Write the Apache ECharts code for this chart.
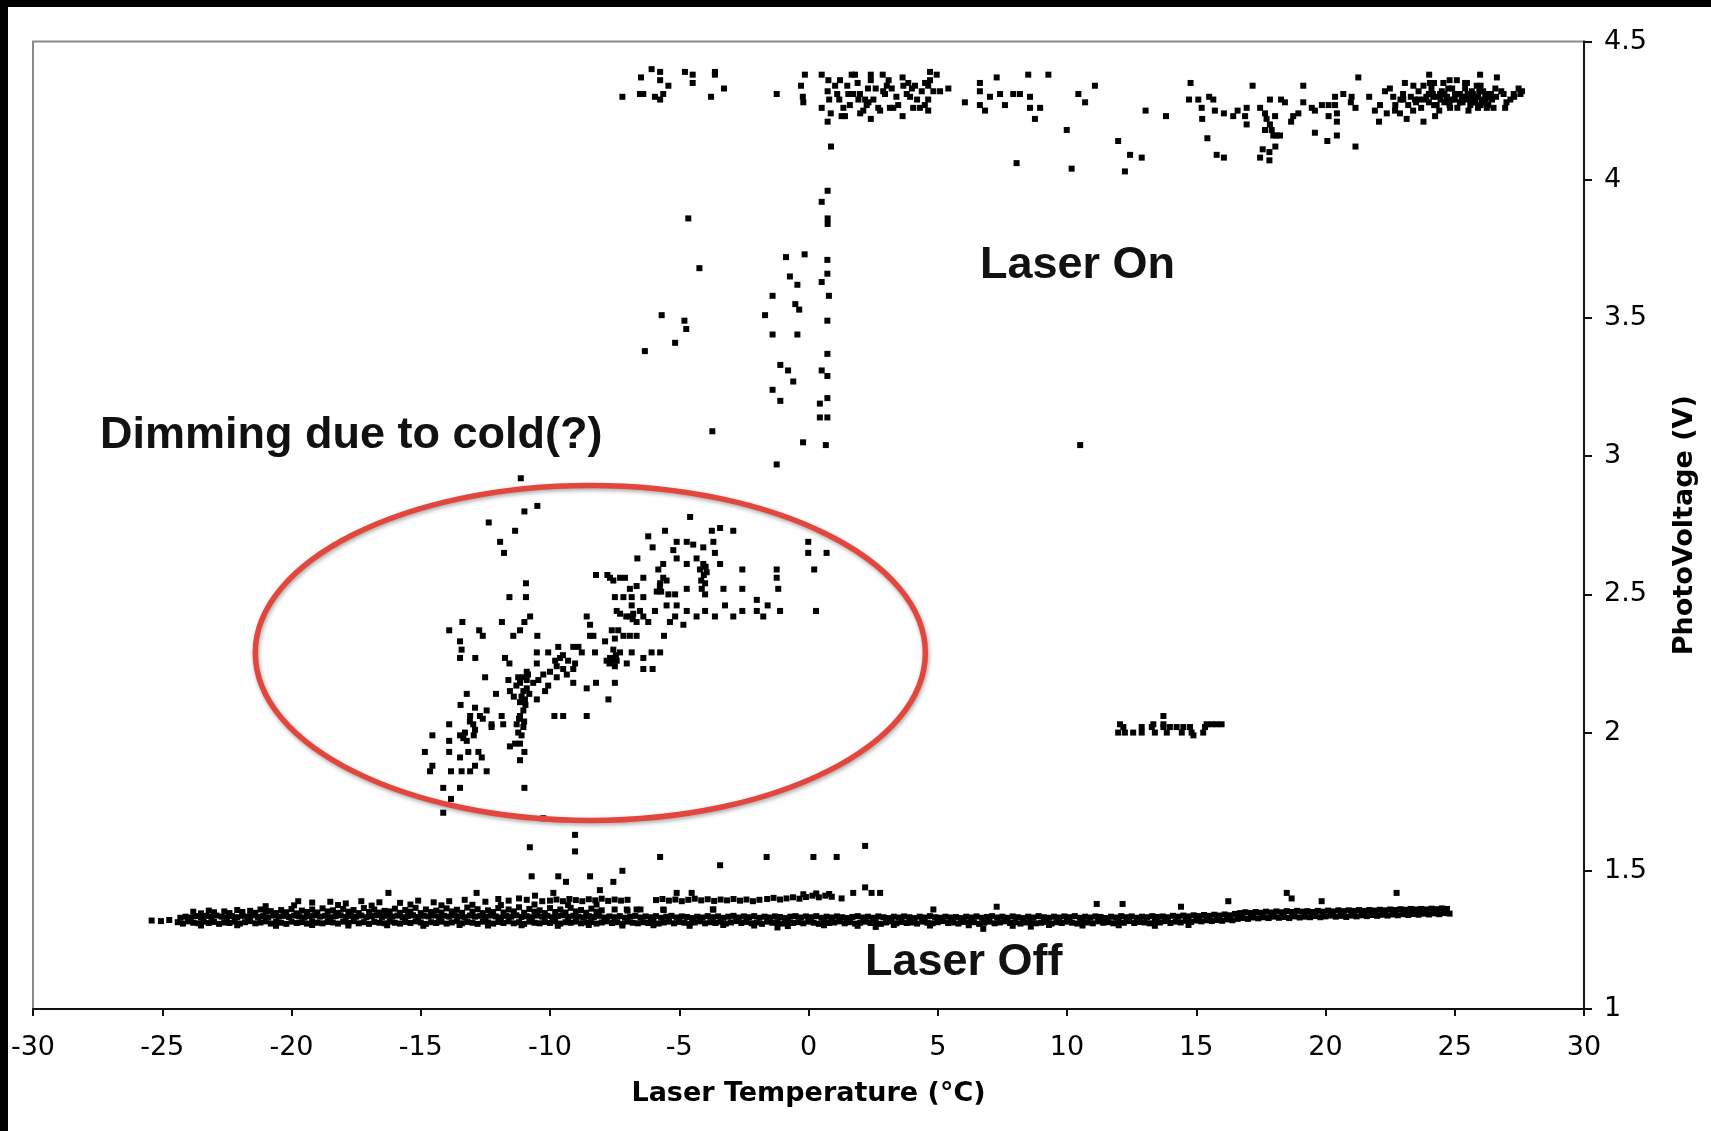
<!DOCTYPE html>
<html>
<head>
<meta charset="utf-8">
<script src="https://cdn.jsdelivr.net/npm/echarts@6/dist/echarts.min.js"></script>
<style>
  html, body { margin: 0; padding: 0; background: #000; width: 1711px; height: 1131px; overflow: hidden; }
  #chart { position: absolute; left: 8px; top: 7px; width: 1703px; height: 1124px; background: #fff; }
</style>
</head>
<body>
<div id="chart"></div>
<script>
// Axis ticks
const tempTicks = [-30, -25, -20, -15, -10, -5, 0, 5, 10, 15, 20, 25, 30];
const voltTicks = [1, 1.5, 2, 2.5, 3, 3.5, 4, 4.5];

// Laser on: plateau near 4.3 V
const onPlateau = [
  [-7.2,4.3],[-6.48,4.37],[-6.07,4.4],[-5.74,4.39],[-5.74,4.36],[-5.42,4.34],[-6.52,4.31],[-6.39,4.31],[-5.94,4.3],[-5.74,4.29],
  [-5.62,4.31],[-4.78,4.39],[-4.48,4.38],[-4.48,4.35],[-3.62,4.39],[-3.62,4.38],[-3.27,4.33],[-3.77,4.3],[-1.23,4.31],
  [-0.14,4.38],[-0.29,4.34],[-0.22,4.3],[-0.2,4.28],[0.51,4.38],[0.77,4.36],[0.74,4.32],[0.8,4.29],[0.51,4.26],[0.86,4.24],[0.74,4.21],[0.87,4.12],
  [1.03,4.34],[1.11,4.31],[1.19,4.29],[1.35,4.26],[1.41,4.23],[1.5,4.34],[1.67,4.38],[1.8,4.38],[1.73,4.31],[1.93,4.29],
  [2.12,4.25],[2.41,4.38],[2.41,4.36],[2.41,4.22],[2.51,4.29],[2.7,4.26],[2.87,4.38],[2.89,4.32],[3.03,4.34],[3.22,4.33],
  [3.28,4.26],[3.47,4.27],[3.64,4.37],[3.67,4.34],[3.64,4.23],[3.86,4.35],[3.93,4.3],[4.05,4.26],[4.31,4.26],[4.38,4.32],
  [4.7,4.39],[4.96,4.38],[4.63,4.34],[4.83,4.32],[5.09,4.32],[5.41,4.33],[4.63,4.29],[4.63,4.25],[2.25,4.27],[2.77,4.25],
  [1.22,4.36],[1.54,4.31],[1.99,4.31],[2.19,4.29],[2.32,4.28],[2.96,4.31],[3.15,4.26],[3.8,4.31],[4.12,4.34],[4.51,4.35],
  [4.7,4.36],[1.28,4.23],[1.6,4.27],[2.0,4.24],[2.6,4.33],[3.4,4.3],[4.2,4.29],[4.5,4.27],[1.9,4.35],[3.1,4.36],[2.3,4.33],[4.0,4.33],
  [6.05,4.28],[6.63,4.35],[6.63,4.32],[6.63,4.27],[6.83,4.25],[7.02,4.3],[7.28,4.37],[7.41,4.31],[7.6,4.27],[7.92,4.31],
  [8.18,4.31],[8.5,4.38],[9.28,4.38],[8.57,4.3],[8.57,4.26],[8.96,4.26],[8.76,4.22],[9.99,4.18],[8.05,4.06],[10.18,4.04],
  [10.44,4.31],[10.7,4.28],[11.08,4.34],[11.98,4.14],
  [12.44,4.09],[12.89,4.08],[12.24,4.03],[13.04,4.25],[13.83,4.23],[14.78,4.35],[14.72,4.29],[15.08,4.29],[15.21,4.26],[15.23,4.22],
  [15.5,4.3],[15.66,4.29],[15.72,4.25],[16.07,4.24],[15.43,4.15],[15.79,4.09],[16.07,4.08],[16.43,4.23],[16.6,4.25],[16.89,4.23],
  [16.95,4.26],[16.95,4.2],[17.18,4.34],[17.47,4.26],[17.66,4.24],[17.72,4.22],[17.85,4.2],[17.92,4.18],[17.98,4.16],[18.11,4.16],
  [18.24,4.16],[18.05,4.23],[17.85,4.29],[17.66,4.18],[17.57,4.11],[17.83,4.1],[18.06,4.12],[17.47,4.08],[17.83,4.07],[18.28,4.29],
  [18.43,4.28],[18.67,4.21],[18.75,4.23],[18.95,4.24],[19.14,4.34],[19.14,4.28],[19.47,4.26],[19.59,4.25],[19.59,4.17],[20.07,4.14],
  [19.86,4.27],[20.12,4.27],[20.37,4.27],[20.44,4.24],[20.44,4.21],[20.12,4.23],[20.37,4.3],[20.69,4.31],[21.01,4.3],[20.98,4.28],
  [21.16,4.26],[20.44,4.16],[21.16,4.12],[21.27,4.37],[21.69,4.3],[21.91,4.25],[22.07,4.21],
  [22.11,4.27],[22.3,4.32],[22.49,4.33],[22.62,4.3],[22.69,4.25],[22.37,4.24],[22.88,4.24],[23.01,4.29],[23.07,4.35],[23.14,4.22],
  [23.39,4.25],[23.46,4.29],[23.79,4.34],[23.79,4.21],[24.01,4.38],[24.04,4.35],[24.17,4.3],[24.24,4.23],[24.43,4.31],[24.56,4.35],
  [24.69,4.29],[24.82,4.26],[25.01,4.31],[25.08,4.36],[25.27,4.3],[25.47,4.35],[25.53,4.25],[25.66,4.32],[25.73,4.28],[25.85,4.34],
  [25.98,4.38],[26.05,4.29],[26.18,4.31],[26.24,4.26],[26.44,4.29],[26.57,4.33],[26.63,4.37],[26.5,4.26],[26.89,4.31],[26.95,4.26],
  [27.15,4.29],[27.28,4.31],[27.47,4.33],[27.54,4.31],
  [23.3,4.3],[23.5,4.28],[23.6,4.32],[23.7,4.26],[23.9,4.3],[24.0,4.28],[24.1,4.33],[24.2,4.27],[24.3,4.3],[24.4,4.25],
  [24.5,4.32],[24.6,4.28],[24.7,4.3],[24.8,4.27],[24.9,4.33],[25.0,4.29],[25.1,4.26],[25.2,4.31],[25.3,4.28],[25.4,4.33],
  [25.5,4.29],[25.6,4.27],[25.7,4.31],[25.8,4.28],[25.9,4.3],[26.0,4.27],[26.1,4.32],[26.2,4.29],[26.3,4.27],[26.4,4.31],
  [23.4,4.34],[23.8,4.29],[24.15,4.31],[24.45,4.29],[24.75,4.33],[25.05,4.31],[25.35,4.3],[25.65,4.29],[25.95,4.32],[26.25,4.3],
  [24.0,4.31],[24.6,4.31],[25.2,4.28],[25.8,4.3],[24.3,4.27],[24.9,4.29],[25.5,4.31],[26.1,4.28],[23.6,4.29],[23.2,4.27],
  [22.9,4.29],[22.7,4.27],[23.0,4.31],[24.2,4.35],[24.8,4.36],[25.4,4.35],[25.9,4.26],[26.0,4.34],[26.6,4.3],[26.8,4.32],
  [27.0,4.28],[27.3,4.3],[27.6,4.32]
];

// Readings between the plateau and the dimmed state
const onDescent = [
  [0.74,3.96],[0.51,3.92],[0.74,3.86],[0.74,3.84],[-4.65,3.86],[-0.87,3.72],[-0.15,3.73],[0.73,3.71],[-4.22,3.68],[-0.72,3.65],
  [-0.43,3.62],[0.73,3.66],[0.51,3.63],[-1.39,3.58],[0.79,3.58],[-0.51,3.55],[-0.36,3.53],[-5.68,3.51],[-4.8,3.49],[-4.73,3.46],
  [-1.68,3.51],[-5.16,3.41],[-6.33,3.38],[-1.39,3.44],[-0.43,3.44],[0.73,3.49],[0.73,3.37],[-1.09,3.33],[-0.79,3.31],[0.51,3.31],
  [0.73,3.29],[-0.59,3.27],[-1.39,3.24],[-1.09,3.2],[0.73,3.21],[0.44,3.19],[0.44,3.14],[0.73,3.14],[-3.72,3.09],[-0.21,3.05],
  [0.67,3.04],[-1.23,2.97],[10.51,3.04]
];

// Dimmed output at low temperature
const coldDimming = [
  [-11.13,2.92],[-10.99,2.8],[-10.49,2.82],[-12.37,2.76],[-11.35,2.73],[-11.93,2.69],[-11.78,2.65],
  [-10.93,2.54],[-11.57,2.49],[-10.93,2.49],[-10.77,2.42],[-11.86,2.4],[-10.99,2.4],[-11.16,2.37],[-11.42,2.35],[-10.49,2.35],
  [-13.9,2.37],[-13.39,2.4],[-12.74,2.37],[-12.6,2.35],[-13.48,2.33],[-13.42,2.3],[-13.48,2.27],[-12.89,2.27],[-12.51,2.2],
  [-11.74,2.27],[-11.57,2.25],[-10.9,2.22],[-10.51,2.29],[-10.51,2.25],[-10.07,2.29],[-9.68,2.31],[-9.61,2.27],[-9.1,2.31],[-8.9,2.31],
  [-8.77,2.29],[-9.03,2.25],[-9.49,2.23],[-9.74,2.24],[-10.0,2.22],[-10.26,2.21],[-10.45,2.19],[-10.65,2.18],[-10.9,2.19],[-11.23,2.2],
  [-11.16,2.18],[-11.61,2.19],[-11.55,2.15],[-11.03,2.15],[-10.97,2.12],[-11.16,2.11],[-11.03,2.08],[-11.16,2.06],[-11.29,2.03],[-11.03,2.02],
  [-11.23,2.0],[-11.35,1.96],[-11.55,1.95],[-11.16,1.96],[-10.99,1.93],[-11.16,1.9],
  [-10.51,2.12],[-10.19,2.15],[-10.07,2.17],[-9.74,2.2],[-9.35,2.21],[-9.1,2.23],[-9.1,2.18],[-8.58,2.16],[-8.22,2.18],[-7.74,2.12],
  [-8.58,2.06],[-9.49,2.06],[-9.83,2.06],
  [-12.09,2.14],[-13.22,2.14],[-13.46,2.1],[-12.9,2.09],[-13.09,2.06],[-12.71,2.06],[-12.45,2.08],[-12.26,2.03],[-12.26,2.02],[-11.87,2.06],
  [-11.81,2.03],[-12.97,2.03],[-12.9,2.01],[-13.29,2.0],[-13.48,1.99],[-13.22,1.97],[-13.9,2.03],[-14.55,1.99],[-13.9,1.97],[-13.9,1.93],
  [-14.84,1.93],[-13.48,1.91],[-13.16,1.93],[-12.77,1.93],[-12.64,1.91],[-13.42,1.86],[-13.09,1.86],[-12.9,1.88],[-12.45,1.86],[-13.83,1.86],
  [-14.64,1.86],[-14.55,1.88],[-14.13,1.8],[-13.48,1.8],[-13.83,1.76],[-14.13,1.71],[-10.99,1.8],[-10.26,1.69],
  [-11.1,2.13],[-10.95,2.1],[-11.2,2.05],[-11.0,2.04],[-11.1,1.99],[-10.9,2.16],[-11.3,2.17],[-11.05,2.2],[-10.85,2.21],[-11.4,2.13],
  [-10.8,2.14],[-7.55,2.27],[-7.7,2.25],[-7.45,2.28],[-9.3,2.26],[-9.5,2.28],[-9.8,2.26],[-12.95,1.99],[-13.35,1.98],[-12.6,2.05],[-13.1,2.04],
  [-8.58,2.42],[-8.45,2.39],[-8.45,2.35],[-8.32,2.35],[-7.87,2.33],[-7.61,2.37],[-7.49,2.34],[-7.36,2.37],[-7.16,2.35],[-6.91,2.35],
  [-6.65,2.35],[-7.55,2.3],[-7.29,2.29],[-6.84,2.29],[-7.81,2.26],[-7.61,2.26],[-7.49,2.24],[-7.68,2.27],[-7.42,2.26],[-7.03,2.25],
  [-7.49,2.18],[-8.26,2.29],[-6.39,2.27],[-6.07,2.29],[-5.74,2.29],[-6.39,2.23],[-6.03,2.23],[-5.59,2.35],
  [-8.22,2.57],[-7.78,2.57],[-7.68,2.56],[-7.55,2.55],[-7.29,2.56],[-7.1,2.56],[-6.91,2.52],[-6.65,2.53],[-6.39,2.56],[-7.49,2.49],
  [-7.16,2.49],[-6.84,2.49],[-6.39,2.49],[-7.42,2.44],[-7.29,2.43],[-6.91,2.42],[-6.78,2.43],[-6.52,2.44],[-6.39,2.42],[-6.2,2.4],
  [-5.94,2.44],[-6.84,2.46],[-6.65,2.4],[-6.62,2.63],[-6.2,2.71],[-6.03,2.67],[-5.55,2.73],[-5.81,2.59],[-5.62,2.61],[-5.62,2.56],
  [-5.74,2.54],[-5.87,2.51],[-5.49,2.55],[-5.42,2.5],[-5.16,2.5],[-5.49,2.46],[-5.1,2.46],[-5.36,2.4],[-5.16,2.42],[-4.84,2.39],
  [-4.71,2.44],[-5.23,2.66],[-5.1,2.69],[-4.71,2.69],[-4.46,2.68],[-4.07,2.67],[-5.1,2.63],[-4.71,2.61],[-4.33,2.63],[-4.07,2.61],
  [-4.2,2.59],[-3.94,2.58],[-4.0,2.54],[-4.13,2.52],[-4.71,2.52],[-4.0,2.5],[-4.33,2.42],[-4.0,2.44],[-3.62,2.42],[-3.23,2.46],
  [-3.29,2.52],[-3.42,2.61],[-3.62,2.65],[-3.68,2.69],[-3.74,2.73],[-3.42,2.74],[-2.91,2.73],[-4.58,2.78],[-2.56,2.59],[-2.56,2.52],
  [-2.91,2.42],[-2.56,2.44],[-2.0,2.48],[-2.0,2.44],[-1.75,2.42],[-1.58,2.46],[-1.1,2.44],[-1.23,2.59],[-1.23,2.56],[-1.17,2.52],
  [-0.01,2.69],[-0.01,2.65],[0.22,2.59],[0.29,2.44],[0.7,2.65],
  [-4.05,2.57],[-3.98,2.6],[-4.15,2.55],[-5.75,2.53],[-5.7,2.51],[-7.05,2.42],[-6.8,2.41]
];

// Short shelf near 2 V
const midShelf = [
  [12.05,2.03],[11.98,2.0],[12.18,2.02],[12.24,2.0],[12.56,2.0],[12.89,2.02],[12.89,2.0],[13.28,2.02],[13.34,2.03],[13.4,2.0],
  [13.73,2.06],[13.73,2.03],[13.73,2.02],[13.86,2.0],[13.98,2.02],[14.24,2.02],[14.44,2.0],[14.5,2.02],[14.76,2.02],[14.82,2.0],
  [14.89,1.99],[15.27,2.0],[15.34,2.02],[15.4,2.03],[15.6,2.03],[15.79,2.03],[15.98,2.03]
];

// Laser off: scattered readings just above the baseline
const offStray = [
  [-10.78,1.585],[-9.03,1.63],[-9.03,1.57],[-10.71,1.48],[-9.68,1.48],[-9.38,1.46],[-8.45,1.48],[-8.07,1.43],[-7.55,1.46],[-7.2,1.5],
  [-5.74,1.55],[-3.42,1.52],[-1.62,1.55],[0.19,1.55],[1.09,1.55],[2.19,1.59],[1.28,1.4],[1.73,1.42],[2.19,1.44],[2.44,1.42],
  [2.77,1.42],[4.83,1.36],[-10.58,1.41],[-9.87,1.42],[-5.1,1.42],[-4.52,1.42],
  [7.28,1.37],[11.15,1.38],[12.15,1.38],[14.41,1.37],[16.24,1.39],[18.5,1.42],[18.69,1.4],[19.85,1.39],[22.75,1.42],[6.76,1.29],
  [-12.84,1.42],[-16.25,1.42],[-19.74,1.39]
];

// Laser off: upper ridge of the baseline band
const offRidge = [
  [-23.8,1.352],[-23.2,1.356],[-22.6,1.353],[-22.1,1.358],[-21.6,1.355],[-21.2,1.36],[-20.8,1.354],[-20.4,1.358],[-20.0,1.362],[-19.6,1.356],
  [-19.2,1.36],[-18.8,1.364],[-18.4,1.357],[-18.0,1.362],[-17.6,1.358],[-17.2,1.365],[-16.8,1.36],[-16.4,1.355],[-16.0,1.363],[-15.6,1.358],
  [-15.2,1.366],[-14.8,1.36],[-14.4,1.356],[-14.0,1.364],[-13.6,1.359],[-13.2,1.367],[-12.8,1.361],[-12.4,1.357],[-12.0,1.365],[-11.6,1.36],
  [-11.2,1.368],[-10.8,1.362],[-10.4,1.357],[-10.0,1.365],[-9.6,1.36],[-9.2,1.366],[-8.8,1.358],[-8.4,1.363],[-8.0,1.357],[-7.5,1.36],
  [-7.0,1.356],[-6.5,1.36],[-5.6,1.358],[-3.7,1.36],[-7.03,1.36],[-6.65,1.36],[-5.62,1.36],[-3.68,1.36],
  [-23.5,1.346],[-23.0,1.35],[-22.4,1.347],[-21.9,1.351],[-21.4,1.348],[-21.0,1.352],[-20.6,1.347],[-20.2,1.35],[-19.8,1.346],[-19.4,1.351],
  [-19.0,1.349],[-18.6,1.353],[-18.2,1.348],[-17.8,1.352],[-17.4,1.347],[-17.0,1.351],[-16.6,1.349],[-16.2,1.353],[-15.8,1.348],[-15.4,1.352],
  [-15.0,1.347],[-14.6,1.351],[-14.2,1.349],[-13.8,1.353],[-13.4,1.348],[-13.0,1.352],[-12.6,1.347],[-12.2,1.351],[-11.8,1.349],[-11.4,1.353],
  [-11.0,1.348],[-10.6,1.352],[-10.2,1.347],[-9.8,1.351],[-9.4,1.349],[-9.0,1.353],[-8.6,1.348],[-8.2,1.352],
  [-21.0,1.372],[-19.9,1.375],[-18.2,1.376],[-16.9,1.374],[-15.4,1.378],[-14.2,1.375],[-13.0,1.377],[-11.9,1.376],[-10.6,1.378],[-9.3,1.376],[-8.2,1.378],
  [-19.2,1.385],[-18.5,1.388],[-17.9,1.382],[-17.3,1.39],[-16.6,1.386],[-15.8,1.384],[-15.1,1.392],[-14.5,1.386],[-13.9,1.39],[-13.3,1.395],
  [-12.5,1.388],[-12.0,1.398],[-11.6,1.392],[-11.2,1.4],[-10.9,1.395],[-10.3,1.39],
  [-10.0,1.392],[-9.75,1.396],[-9.5,1.39],[-9.25,1.398],[-9.0,1.394],[-8.75,1.39],[-8.5,1.397],[-8.25,1.393],[-8.0,1.399],[-7.75,1.391],
  [-7.5,1.396],[-7.25,1.392],[-7.0,1.395],
  [-5.9,1.394],[-5.65,1.398],[-5.4,1.392],[-5.15,1.396],[-4.9,1.39],[-4.65,1.395],[-4.4,1.399],[-4.15,1.393],[-3.9,1.397],[-3.65,1.391],
  [-3.4,1.396],[-3.15,1.393],[-2.9,1.398],[-2.65,1.392],[-2.4,1.396],[-2.15,1.39],[-1.9,1.395],
  [-1.6,1.398],[-1.35,1.402],[-1.1,1.396],[-0.85,1.4],[-0.6,1.404],[-0.35,1.399],[-0.1,1.405],[0.15,1.41],[0.4,1.404],[0.65,1.41],
  [0.9,1.406],[-0.2,1.415],[0.3,1.418],[0.8,1.416]
];

// Laser off: baseline band, lower row
const offBandLower = [
  [-24.4,1.314],[-24.2,1.309],[-24,1.317],[-23.8,1.312],[-23.6,1.31],[-23.4,1.316],[-23.2,1.311],[-23,1.315],[-22.8,1.308],[-22.6,1.313],
  [-22.4,1.311],[-22.2,1.316],[-22,1.309],[-21.8,1.314],[-21.6,1.318],[-21.4,1.31],[-21.2,1.313],[-21,1.317],[-20.8,1.309],[-20.6,1.315],
  [-20.4,1.312],[-20.2,1.308],[-20,1.316],[-19.8,1.311],[-19.6,1.314],[-19.4,1.309],[-19.2,1.317],[-19,1.312],[-18.8,1.31],[-18.6,1.315],
  [-18.4,1.313],[-18.2,1.309],[-18,1.316],[-17.8,1.311],[-17.6,1.318],[-17.4,1.31],[-17.2,1.314],[-17,1.308],[-16.8,1.315],[-16.6,1.312],
  [-16.4,1.31],[-16.2,1.316],[-16,1.312],[-15.8,1.309],[-15.6,1.315],[-15.4,1.311],[-15.2,1.317],[-15,1.313],[-14.8,1.308],[-14.6,1.314],
  [-14.4,1.311],[-14.2,1.316],[-14,1.309],[-13.8,1.313],[-13.6,1.318],[-13.4,1.31],[-13.2,1.315],[-13,1.312],[-12.8,1.308],[-12.6,1.316],
  [-12.4,1.313],[-12.2,1.309],[-12,1.315],[-11.8,1.311],[-11.6,1.317],[-11.4,1.31],[-11.2,1.314],[-11,1.308],[-10.8,1.316],[-10.6,1.312],
  [-10.4,1.31],[-10.2,1.315],[-10,1.311],[-9.8,1.317],[-9.6,1.309],[-9.4,1.314],[-9.2,1.312],[-9,1.316],[-8.8,1.31],[-8.6,1.313],
  [-8.4,1.315],[-8.2,1.309],[-8,1.313],[-7.8,1.317],[-7.6,1.311],[-7.4,1.314],[-7.2,1.308],[-7,1.316],[-6.8,1.312],[-6.6,1.31],
  [-6.4,1.314],[-6.2,1.311],[-6,1.317],[-5.8,1.309],[-5.6,1.313],[-5.4,1.316],[-5.2,1.31],[-5,1.315],[-4.8,1.312],[-4.6,1.308],
  [-4.4,1.313],[-4.2,1.317],[-4,1.31],[-3.8,1.314],[-3.6,1.311],[-3.4,1.316],[-3.2,1.309],[-3,1.313],[-2.8,1.318],[-2.6,1.311],
  [-2.4,1.315],[-2.2,1.31],[-2,1.313],[-1.8,1.308],[-1.6,1.316],[-1.4,1.312],[-1.2,1.314],[-1,1.309],[-0.8,1.317],[-0.6,1.311],
  [-0.4,1.314],[-0.2,1.31],[0,1.316],[0.2,1.312],[0.4,1.308],[0.6,1.315],[0.8,1.311],[1,1.313],[1.2,1.317],[1.4,1.31],
  [1.6,1.314],[1.8,1.309],[2,1.312],[2.2,1.316],[2.4,1.311],[2.6,1.314],[2.8,1.308],[3,1.313],[3.2,1.317],[3.4,1.31],
  [3.6,1.315],[3.8,1.311],[4,1.313],[4.2,1.309],[4.4,1.316],[4.6,1.312],[4.8,1.31],[5,1.314],[5.2,1.318],[5.4,1.311],
  [5.6,1.313],[5.8,1.309],[6,1.315],[6.2,1.311],[6.4,1.314],[6.6,1.308],[6.8,1.312],[7,1.316],[7.2,1.31],[7.4,1.313],
  [7.6,1.317],[7.8,1.311],[8,1.314],[8.2,1.309],[8.4,1.313],[8.6,1.316],[8.8,1.31],[9,1.312],[9.2,1.315],[9.4,1.309],
  [9.6,1.314],[9.8,1.311],[10,1.316],[10.2,1.312],[10.4,1.309],[10.6,1.315],[10.8,1.313],[11,1.31],[11.2,1.317],[11.4,1.312],
  [11.6,1.314],[11.8,1.31],[12,1.316],[12.2,1.312],[12.4,1.318],[12.6,1.311],[12.8,1.315],[13,1.313],[13.2,1.31],[13.4,1.316],
  [13.6,1.313],[13.8,1.318],[14,1.311],[14.2,1.316],[14.4,1.313],[14.6,1.319],[14.8,1.315],[15,1.32],[15.2,1.317],[15.4,1.321],
  [15.6,1.318],[15.8,1.322],[16,1.319],[16.2,1.324],[16.4,1.321],[16.6,1.326],[16.8,1.329],[17,1.326],[17.2,1.331],[17.4,1.328],
  [17.6,1.332],[17.8,1.329],[18,1.334],[18.2,1.33],[18.4,1.333],[18.6,1.329],[18.8,1.335],[19,1.331],[19.2,1.334],[19.4,1.332],
  [19.6,1.336],[19.8,1.332],[20,1.335],[20.2,1.338],[20.4,1.334],[20.6,1.337],[20.8,1.333],[21,1.338],[21.2,1.335],[21.4,1.339],
  [21.6,1.336],[21.8,1.34],[22,1.337],[22.2,1.341],[22.4,1.338],[22.6,1.342],[22.8,1.339],[23,1.343],[23.2,1.34],[23.4,1.344],
  [23.6,1.341],[23.8,1.345],[24,1.342],[24.2,1.346],[24.4,1.343],[24.6,1.347],[24.8,1.345]
];

// Laser off: baseline band, upper row
const offBandUpper = [
  [-24.3,1.33],[-24.1,1.334],[-23.9,1.331],[-23.7,1.336],[-23.5,1.332],[-23.3,1.337],[-23.1,1.333],[-22.9,1.338],[-22.7,1.334],[-22.5,1.331],
  [-22.3,1.336],[-22.1,1.332],[-21.9,1.337],[-21.7,1.334],[-21.5,1.339],[-21.3,1.333],[-21.1,1.336],[-20.9,1.331],[-20.7,1.338],[-20.5,1.334],
  [-20.3,1.337],[-20.1,1.333],[-19.9,1.338],[-19.7,1.335],[-19.5,1.331],[-19.3,1.336],[-19.1,1.339],[-18.9,1.334],[-18.7,1.337],[-18.5,1.332],
  [-18.3,1.336],[-18.1,1.339],[-17.9,1.333],[-17.7,1.337],[-17.5,1.334],[-17.3,1.338],[-17.1,1.332],[-16.9,1.336],[-16.7,1.339],[-16.5,1.333],
  [-16.3,1.337],[-16.1,1.334],[-15.9,1.338],[-15.7,1.332],[-15.5,1.336],[-15.3,1.339],[-15.1,1.333],[-14.9,1.337],[-14.7,1.335],[-14.5,1.338],
  [-14.3,1.333],[-14.1,1.337],[-13.9,1.334],[-13.7,1.339],[-13.5,1.335],[-13.3,1.332],[-13.1,1.338],[-12.9,1.334],[-12.7,1.337],[-12.5,1.333],
  [-12.3,1.338],[-12.1,1.335],[-11.9,1.331],[-11.7,1.337],[-11.5,1.334],[-11.3,1.339],[-11.1,1.333],[-10.9,1.336],[-10.7,1.332],[-10.5,1.338],
  [-10.3,1.334],[-10.1,1.337],[-9.9,1.332],[-9.7,1.336],[-9.5,1.339],[-9.3,1.333],[-9.1,1.337],[-8.9,1.334],[-8.7,1.331],[-8.5,1.336],
  [-8.3,1.333],[-8.1,1.337],[-7.9,1.331],[-7.7,1.335],[-7.5,1.332],[-7.3,1.336],[-7.1,1.33],[-6.9,1.334],[-6.7,1.337],[-6.5,1.331],
  [-6.3,1.335],[-6.1,1.332],[-5.9,1.336],[-5.7,1.33],[-5.5,1.334],[-5.3,1.337],[-5.1,1.331],[-4.9,1.335],[-4.7,1.333],[-4.5,1.329],
  [-4.3,1.334],[-4.1,1.331],[-3.9,1.336],[-3.7,1.332],[-3.5,1.335],[-3.3,1.33],[-3.1,1.334],[-2.9,1.337],[-2.7,1.331],[-2.5,1.335],
  [-2.3,1.332],[-2.1,1.336],[-1.9,1.33],[-1.7,1.334],[-1.5,1.331],[-1.3,1.335],[-1.1,1.333],[-0.9,1.329],[-0.7,1.334],[-0.5,1.336],
  [-0.3,1.331],[-0.1,1.335],[0.1,1.332],[0.3,1.336],[0.5,1.33],[0.7,1.334],[0.9,1.331],[1.1,1.335],[1.3,1.332],[1.5,1.329],
  [1.7,1.333],[1.9,1.336],[2.1,1.331],[2.3,1.334],[2.5,1.33],[2.7,1.335],[2.9,1.332],[3.1,1.329],[3.3,1.334],[3.5,1.331],
  [3.7,1.335],[3.9,1.332],[4.1,1.329],[4.3,1.334],[4.5,1.331],[4.7,1.336],[4.9,1.332],[5.1,1.33],[5.3,1.334],[5.5,1.331],
  [5.7,1.333],[5.9,1.329],[6.1,1.334],[6.3,1.331],[6.5,1.335],[6.7,1.33],[6.9,1.333],[7.1,1.336],[7.3,1.331],[7.5,1.334],
  [7.7,1.33],[7.9,1.335],[8.1,1.332],[8.3,1.329],[8.5,1.334],[8.7,1.331],[8.9,1.336],[9.1,1.332],[9.3,1.33],[9.5,1.334],
  [9.7,1.331],[9.9,1.335],[10.1,1.332],[10.3,1.336],[10.5,1.33],[10.7,1.334],[10.9,1.331],[11.1,1.335],[11.3,1.333],[11.5,1.329],
  [11.7,1.334],[11.9,1.331],[12.1,1.336],[12.3,1.332],[12.5,1.335],[12.7,1.33],[12.9,1.334],[13.1,1.332],[13.3,1.336],[13.5,1.333],
  [13.7,1.335],[13.9,1.332],[14.1,1.337],[14.3,1.334],[14.5,1.338],[14.7,1.335],[14.9,1.339],[15.1,1.336],[15.3,1.34],[15.5,1.337],
  [15.7,1.341],[15.9,1.338],[16.1,1.342],[16.3,1.339],[16.5,1.344],[16.7,1.347],[16.9,1.35],[17.1,1.347],[17.3,1.351],[17.5,1.348],
  [17.7,1.352],[17.9,1.349],[18.1,1.353],[18.3,1.35],[18.5,1.354],[18.7,1.351],[18.9,1.355],[19.1,1.352],[19.3,1.354],[19.5,1.351],
  [19.7,1.355],[19.9,1.352],[20.1,1.356],[20.3,1.353],[20.5,1.357],[20.7,1.354],[20.9,1.357],[21.1,1.355],[21.3,1.358],[21.5,1.355],
  [21.7,1.358],[21.9,1.356],[22.1,1.359],[22.3,1.357],[22.5,1.36],[22.7,1.358],[22.9,1.361],[23.1,1.359],[23.3,1.362],[23.5,1.36],
  [23.7,1.362],[23.9,1.36],[24.1,1.363],[24.3,1.361],[24.5,1.364],[24.7,1.362]
];

// Laser off: lower edge of the band and the first few readings on the left
const offBandEdge = [
  [-25.41,1.32],[-24.73,1.322],[-25.05,1.318],[-23.5,1.302],[-22.1,1.303],[-20.6,1.301],[-19.2,1.304],[-17.8,1.302],[-16.3,1.303],[-14.9,1.301],
  [-13.5,1.304],[-12.4,1.302],[-11.1,1.303],[-9.7,1.301],[-8.5,1.304],[-7.2,1.302],[-6.0,1.303],[-4.6,1.301],[-3.3,1.304],[-2.1,1.302],
  [-0.8,1.3],[0.6,1.303],[1.9,1.301],[3.3,1.304],[4.7,1.302],[6.2,1.303],[7.9,1.301],[9.3,1.304],[10.6,1.302],[12.0,1.303],
  [13.4,1.301],[14.7,1.304],[-1.2,1.295],[2.6,1.297],[8.6,1.298]
];

// Highlight ring around the dimmed readings (centre and radii in data units)
const ringCentre = [-8.44, 2.288];
const ringRadii = [12.96, 0.606];

const chart = echarts.init(document.getElementById('chart'), null, { renderer: 'canvas' });

function dots(data) {
  return {
    type: 'scatter',
    data: data,
    symbol: 'rect',
    symbolSize: 6,
    itemStyle: { color: '#000', opacity: 1 },
    silent: true,
    animation: false,
    progressive: 0,
    large: false,
    emphasis: { disabled: true }
  };
}

const tickFont = { fontFamily: 'DejaVu Sans', fontSize: 27, color: '#000' };
const titleFont = { fontFamily: 'DejaVu Sans', fontWeight: 'bold', fontSize: 27, color: '#000' };

chart.setOption({
  animation: false,
  backgroundColor: '#fff',
  grid: {
    left: 25, top: 34.5, right: 127, bottom: 122,
    show: true, borderColor: '#8a8a8a', borderWidth: 2, backgroundColor: 'transparent',
    containLabel: false, outerBoundsMode: 'none'
  },
  xAxis: {
    type: 'value',
    min: tempTicks[0], max: tempTicks[tempTicks.length - 1], interval: tempTicks[1] - tempTicks[0],
    position: 'bottom',
    name: 'Laser Temperature (°C)', nameLocation: 'middle', nameGap: 71,
    nameTextStyle: titleFont,
    axisLine: { show: true, onZero: false, lineStyle: { color: '#111', width: 2 } },
    axisTick: { show: true, inside: false, length: 7, lineStyle: { color: '#111', width: 2 } },
    axisLabel: Object.assign({ margin: 25, showMinLabel: true, showMaxLabel: true }, tickFont),
    splitLine: { show: false }
  },
  yAxis: {
    type: 'value',
    min: voltTicks[0], max: voltTicks[voltTicks.length - 1], interval: voltTicks[1] - voltTicks[0],
    position: 'right',
    name: 'PhotoVoltage (V)', nameLocation: 'middle', nameRotate: 90, nameGap: 87,
    nameTextStyle: titleFont,
    axisLine: { show: true, onZero: false, lineStyle: { color: '#111', width: 2 } },
    axisTick: { show: true, inside: false, length: 8, lineStyle: { color: '#111', width: 2 } },
    axisLabel: Object.assign({ margin: 20, showMinLabel: true, showMaxLabel: true }, tickFont),
    splitLine: { show: false }
  },
  series: [
    dots(offBandLower), dots(offBandUpper), dots(offBandEdge), dots(offRidge), dots(offStray),
    dots(midShelf), dots(coldDimming), dots(onDescent), dots(onPlateau)
  ]
});

// Ellipse and annotation texts, placed from data coordinates
const c = chart.convertToPixel({ gridIndex: 0 }, ringCentre);
const e = chart.convertToPixel({ gridIndex: 0 }, [ringCentre[0] + ringRadii[0], ringCentre[1] + ringRadii[1]]);
const noteFont = 'bold 45px "Liberation Sans", Arial, sans-serif';

chart.setOption({
  graphic: [
    {
      type: 'ellipse',
      shape: { cx: c[0], cy: c[1], rx: Math.abs(e[0] - c[0]), ry: Math.abs(c[1] - e[1]) },
      style: {
        fill: 'none', stroke: '#e3463c', lineWidth: 5.5,
        shadowBlur: 4, shadowOffsetX: 1, shadowOffsetY: 2, shadowColor: 'rgba(0,0,0,0.35)'
      },
      silent: true, z: 100
    },
    { type: 'text', left: 972, top: 236, style: { text: 'Laser On', font: noteFont, fill: '#111' }, silent: true, z: 101 },
    { type: 'text', left: 92, top: 406, style: { text: 'Dimming due to cold(?)', font: noteFont, fill: '#111' }, silent: true, z: 101 },
    { type: 'text', left: 857, top: 933, style: { text: 'Laser Off', font: noteFont, fill: '#111' }, silent: true, z: 101 }
  ]
});
</script>
</body>
</html>
